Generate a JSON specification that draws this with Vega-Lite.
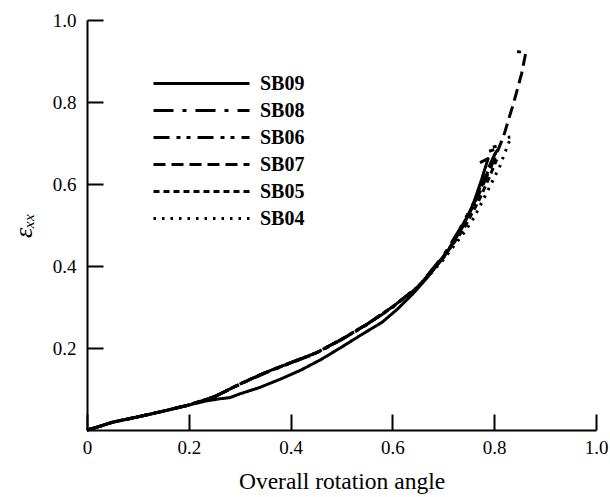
{
  "$schema": "https://vega.github.io/schema/vega-lite/v6.json",
  "width": 509,
  "height": 410,
  "autosize": {"type": "none"},
  "padding": {"left": 87, "top": 20, "right": 14, "bottom": 67},
  "background": "white",
  "config": {
    "view": {"stroke": null},
    "font": "Liberation Serif",
    "axis": {
      "domainColor": "black", "domainWidth": 2, "tickColor": "black", "tickWidth": 2,
      "labelColor": "black", "labelFont": "Liberation Serif", "labelFontSize": 19,
      "titleColor": "black", "titleFont": "Liberation Serif", "titleFontSize": 23.5, "titleFontWeight": "normal",
      "grid": false
    }
  },
  "data": {"values": [
    {"s":"SB09","i":0,"x":0,"y":0},{"s":"SB09","i":1,"x":0.02,"y":0.007},{"s":"SB09","i":2,"x":0.05,"y":0.019},{"s":"SB09","i":3,"x":0.1,"y":0.032},{"s":"SB09","i":4,"x":0.15,"y":0.046},{"s":"SB09","i":5,"x":0.2,"y":0.061},{"s":"SB09","i":6,"x":0.235,"y":0.071},{"s":"SB09","i":7,"x":0.26,"y":0.076},{"s":"SB09","i":8,"x":0.281,"y":0.079},{"s":"SB09","i":9,"x":0.3,"y":0.088},{"s":"SB09","i":10,"x":0.34,"y":0.104},{"s":"SB09","i":11,"x":0.38,"y":0.124},{"s":"SB09","i":12,"x":0.42,"y":0.146},{"s":"SB09","i":13,"x":0.46,"y":0.172},{"s":"SB09","i":14,"x":0.5,"y":0.202},{"s":"SB09","i":15,"x":0.54,"y":0.233},{"s":"SB09","i":16,"x":0.58,"y":0.263},{"s":"SB09","i":17,"x":0.61,"y":0.295},{"s":"SB09","i":18,"x":0.64,"y":0.332},{"s":"SB09","i":19,"x":0.67,"y":0.374},{"s":"SB09","i":20,"x":0.7,"y":0.421},{"s":"SB09","i":21,"x":0.72,"y":0.458},{"s":"SB09","i":22,"x":0.74,"y":0.5},{"s":"SB09","i":23,"x":0.76,"y":0.555},{"s":"SB09","i":24,"x":0.775,"y":0.61},{"s":"SB09","i":25,"x":0.788,"y":0.662},{"s":"SB09","i":26,"x":0.772,"y":0.652},

    {"s":"SB08","i":0,"x":0,"y":0},{"s":"SB08","i":1,"x":0.02,"y":0.007},{"s":"SB08","i":2,"x":0.05,"y":0.019},{"s":"SB08","i":3,"x":0.1,"y":0.032},{"s":"SB08","i":4,"x":0.15,"y":0.046},{"s":"SB08","i":5,"x":0.2,"y":0.061},{"s":"SB08","i":6,"x":0.25,"y":0.081},{"s":"SB08","i":7,"x":0.3,"y":0.112},{"s":"SB08","i":8,"x":0.35,"y":0.14},{"s":"SB08","i":9,"x":0.4,"y":0.164},{"s":"SB08","i":10,"x":0.45,"y":0.188},{"s":"SB08","i":11,"x":0.5,"y":0.221},{"s":"SB08","i":12,"x":0.55,"y":0.258},{"s":"SB08","i":13,"x":0.6,"y":0.3},{"s":"SB08","i":14,"x":0.65,"y":0.349},{"s":"SB08","i":15,"x":0.7,"y":0.425},{"s":"SB08","i":16,"x":0.73,"y":0.485},{"s":"SB08","i":17,"x":0.76,"y":0.555},{"s":"SB08","i":18,"x":0.78,"y":0.615},{"s":"SB08","i":19,"x":0.8,"y":0.67},{"s":"SB08","i":20,"x":0.812,"y":0.695},{"s":"SB08","i":21,"x":0.79,"y":0.687},

    {"s":"SB06","i":0,"x":0,"y":0},{"s":"SB06","i":1,"x":0.02,"y":0.007},{"s":"SB06","i":2,"x":0.05,"y":0.019},{"s":"SB06","i":3,"x":0.1,"y":0.032},{"s":"SB06","i":4,"x":0.15,"y":0.046},{"s":"SB06","i":5,"x":0.2,"y":0.061},{"s":"SB06","i":6,"x":0.25,"y":0.081},{"s":"SB06","i":7,"x":0.3,"y":0.111},{"s":"SB06","i":8,"x":0.35,"y":0.139},{"s":"SB06","i":9,"x":0.4,"y":0.163},{"s":"SB06","i":10,"x":0.45,"y":0.187},{"s":"SB06","i":11,"x":0.5,"y":0.22},{"s":"SB06","i":12,"x":0.55,"y":0.257},{"s":"SB06","i":13,"x":0.6,"y":0.299},{"s":"SB06","i":14,"x":0.65,"y":0.348},{"s":"SB06","i":15,"x":0.7,"y":0.423},{"s":"SB06","i":16,"x":0.73,"y":0.482},{"s":"SB06","i":17,"x":0.76,"y":0.55},{"s":"SB06","i":18,"x":0.78,"y":0.608},{"s":"SB06","i":19,"x":0.8,"y":0.668},{"s":"SB06","i":20,"x":0.806,"y":0.686},{"s":"SB06","i":21,"x":0.79,"y":0.68},

    {"s":"SB07","i":0,"x":0,"y":0},{"s":"SB07","i":1,"x":0.02,"y":0.007},{"s":"SB07","i":2,"x":0.05,"y":0.019},{"s":"SB07","i":3,"x":0.1,"y":0.032},{"s":"SB07","i":4,"x":0.15,"y":0.046},{"s":"SB07","i":5,"x":0.2,"y":0.061},{"s":"SB07","i":6,"x":0.25,"y":0.081},{"s":"SB07","i":7,"x":0.3,"y":0.112},{"s":"SB07","i":8,"x":0.35,"y":0.14},{"s":"SB07","i":9,"x":0.4,"y":0.164},{"s":"SB07","i":10,"x":0.45,"y":0.188},{"s":"SB07","i":11,"x":0.5,"y":0.221},{"s":"SB07","i":12,"x":0.55,"y":0.258},{"s":"SB07","i":13,"x":0.6,"y":0.3},{"s":"SB07","i":14,"x":0.65,"y":0.349},{"s":"SB07","i":15,"x":0.7,"y":0.42},{"s":"SB07","i":16,"x":0.74,"y":0.5},{"s":"SB07","i":17,"x":0.77,"y":0.575},{"s":"SB07","i":18,"x":0.795,"y":0.645},{"s":"SB07","i":19,"x":0.818,"y":0.715},{"s":"SB07","i":20,"x":0.838,"y":0.797},{"s":"SB07","i":21,"x":0.854,"y":0.87},{"s":"SB07","i":22,"x":0.862,"y":0.92},{"s":"SB07","i":23,"x":0.845,"y":0.923},

    {"s":"SB05","i":0,"x":0,"y":0},{"s":"SB05","i":1,"x":0.02,"y":0.007},{"s":"SB05","i":2,"x":0.05,"y":0.019},{"s":"SB05","i":3,"x":0.1,"y":0.032},{"s":"SB05","i":4,"x":0.15,"y":0.046},{"s":"SB05","i":5,"x":0.2,"y":0.061},{"s":"SB05","i":6,"x":0.25,"y":0.081},{"s":"SB05","i":7,"x":0.3,"y":0.112},{"s":"SB05","i":8,"x":0.35,"y":0.14},{"s":"SB05","i":9,"x":0.4,"y":0.164},{"s":"SB05","i":10,"x":0.45,"y":0.188},{"s":"SB05","i":11,"x":0.5,"y":0.221},{"s":"SB05","i":12,"x":0.55,"y":0.258},{"s":"SB05","i":13,"x":0.6,"y":0.3},{"s":"SB05","i":14,"x":0.65,"y":0.349},{"s":"SB05","i":15,"x":0.7,"y":0.42},{"s":"SB05","i":16,"x":0.74,"y":0.49},{"s":"SB05","i":17,"x":0.77,"y":0.56},{"s":"SB05","i":18,"x":0.79,"y":0.615},{"s":"SB05","i":19,"x":0.805,"y":0.66},

    {"s":"SB04","i":0,"x":0,"y":0},{"s":"SB04","i":1,"x":0.02,"y":0.007},{"s":"SB04","i":2,"x":0.05,"y":0.019},{"s":"SB04","i":3,"x":0.1,"y":0.032},{"s":"SB04","i":4,"x":0.15,"y":0.046},{"s":"SB04","i":5,"x":0.2,"y":0.061},{"s":"SB04","i":6,"x":0.25,"y":0.081},{"s":"SB04","i":7,"x":0.3,"y":0.112},{"s":"SB04","i":8,"x":0.35,"y":0.14},{"s":"SB04","i":9,"x":0.4,"y":0.164},{"s":"SB04","i":10,"x":0.45,"y":0.188},{"s":"SB04","i":11,"x":0.5,"y":0.221},{"s":"SB04","i":12,"x":0.55,"y":0.258},{"s":"SB04","i":13,"x":0.6,"y":0.3},{"s":"SB04","i":14,"x":0.65,"y":0.348},{"s":"SB04","i":15,"x":0.7,"y":0.415},{"s":"SB04","i":16,"x":0.74,"y":0.48},{"s":"SB04","i":17,"x":0.76,"y":0.517},{"s":"SB04","i":18,"x":0.788,"y":0.585},{"s":"SB04","i":19,"x":0.811,"y":0.643},{"s":"SB04","i":20,"x":0.828,"y":0.699},{"s":"SB04","i":21,"x":0.834,"y":0.715},{"s":"SB04","i":22,"x":0.818,"y":0.712}
  ]},
  "mark": {"type": "line", "color": "black", "strokeWidth": 3, "strokeCap": "butt", "strokeJoin": "round", "clip": false},
  "encoding": {
    "x": {"field": "x", "type": "quantitative",
      "scale": {"domain": [0, 1], "nice": false},
      "axis": {"title": "Overall rotation angle", "values": [0, 0.2, 0.4, 0.6, 0.8, 1.0],
        "labelExpr": "datum.value == 0 ? '0' : format(datum.value, '.1f')",
        "tickSize": -16, "labelPadding": 24, "titlePadding": 12, "labelFlush": false}},
    "y": {"field": "y", "type": "quantitative",
      "scale": {"domain": [0, 1], "nice": false},
      "axis": {"title": "εₓₓ", "values": [0.2, 0.4, 0.6, 0.8, 1.0],
        "format": ".1f", "tickSize": -16, "labelPadding": 27, "titlePadding": 16, "labelFlush": false, "titleFontStyle": "italic", "titleFontSize": 26}},
    "strokeDash": {"field": "s", "type": "nominal",
      "scale": {"domain": ["SB09", "SB08", "SB06", "SB07", "SB05", "SB04"],
        "range": [[1, 0], [20, 9, 4, 9], [16, 7, 4, 6, 4, 7], [12, 6], [6, 4], [2.5, 6]]},
      "legend": {"title": null, "orient": "none", "legendX": 65, "legendY": 50,
        "symbolType": "stroke", "symbolSize": 9216, "symbolStrokeWidth": 3, "symbolStrokeColor": "black",
        "labelFont": "Liberation Serif", "labelFontSize": 20, "labelFontWeight": "bold", "labelColor": "black",
        "labelOffset": 9, "clipHeight": 27, "rowPadding": 0, "padding": 0}},
    "order": {"field": "i", "type": "quantitative"}
  }
}
